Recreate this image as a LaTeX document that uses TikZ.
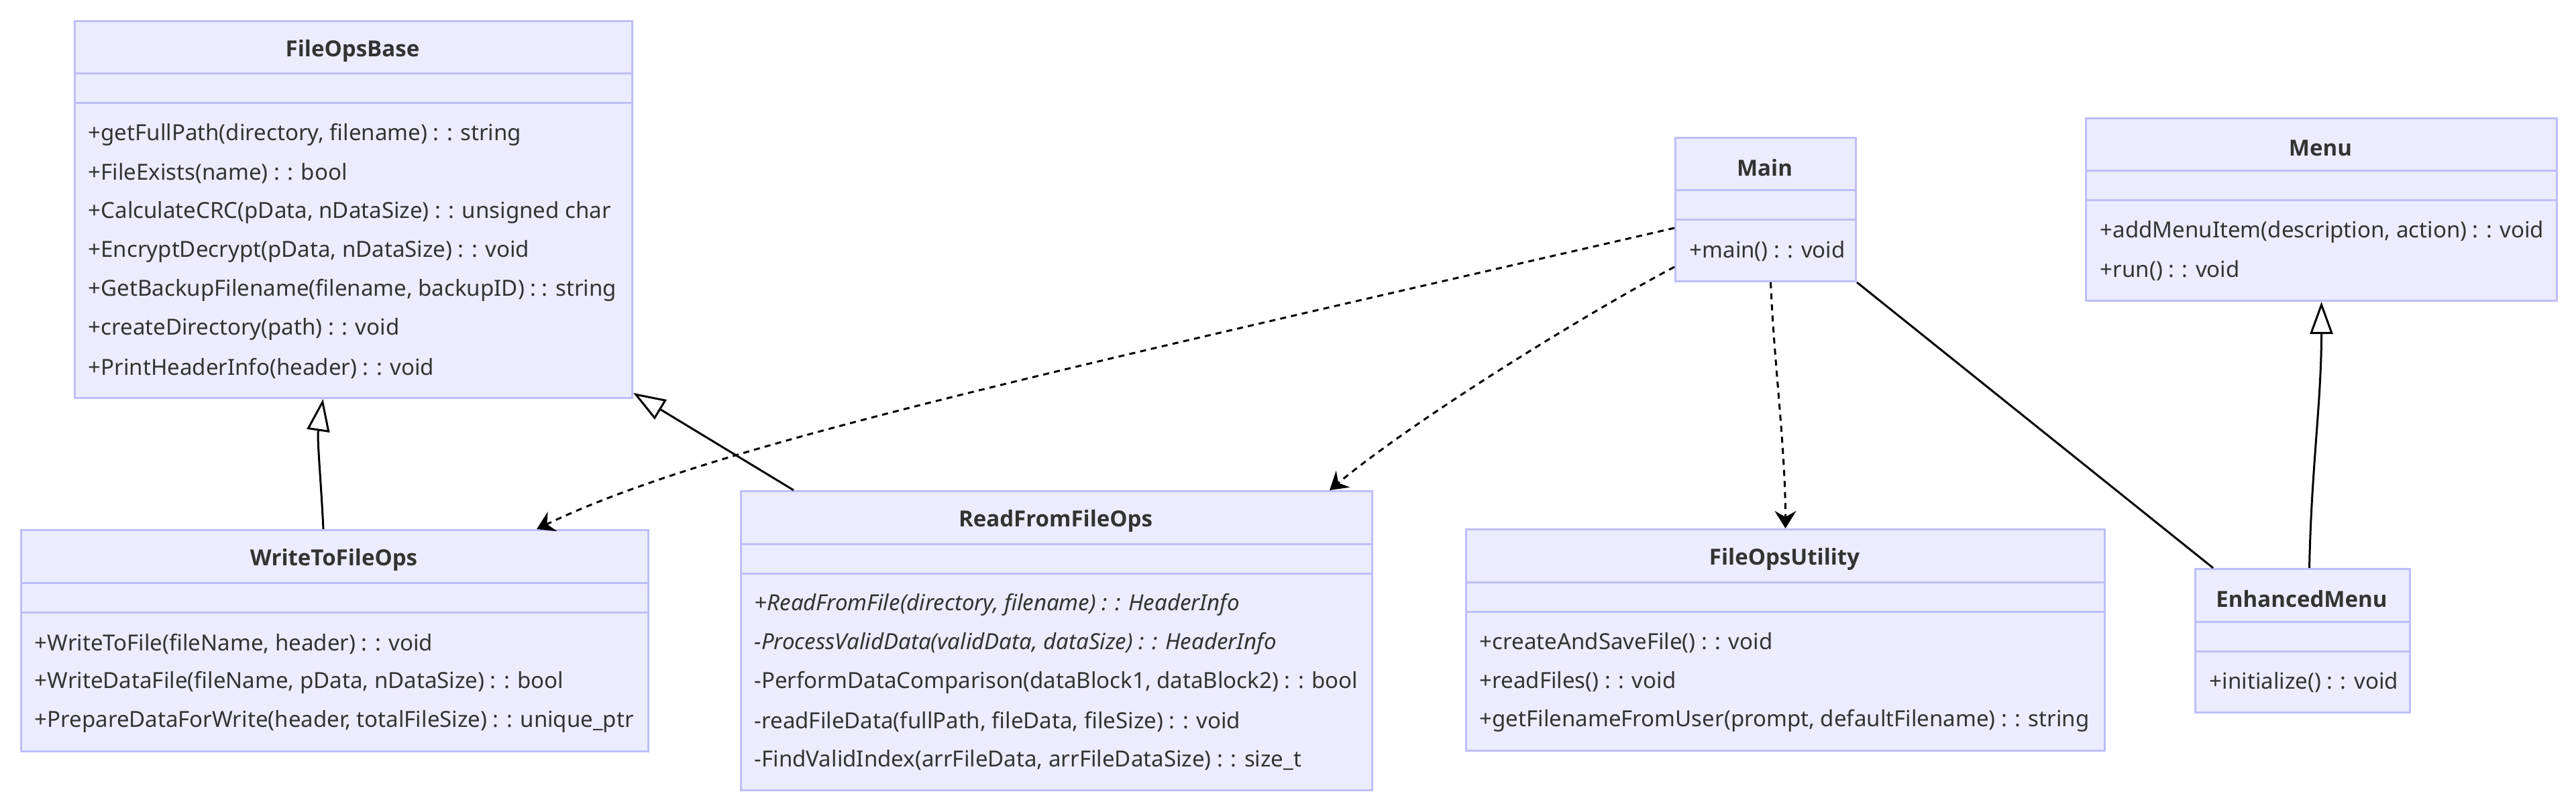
\documentclass[tikz,border=0pt]{standalone}
\usepackage{fontspec}
\setmainfont{Noto Sans}
\newfontfamily\titlefont{Open Sans}
\usetikzlibrary{arrows.meta}
\definecolor{classfill}{HTML}{ECECFF}
\definecolor{classline}{RGB}{190,190,250}
\definecolor{classtext}{HTML}{333333}
\begin{document}
\begin{tikzpicture}[x=1mm,y=-1mm,font=\fontsize{9.4}{11}\selectfont]
\tikzset{
  classbox/.style={draw=classline,fill=classfill,line width=0.3mm,
    inner sep=0pt,anchor=north west},
  divider/.style={draw=classline,line width=0.3mm},
  classname/.style={font=\fontsize{9.4}{11}\selectfont\titlefont\bfseries,text=classtext},
  member/.style={anchor=west,inner sep=0pt,text=classtext},
  abstract/.style={member,font=\fontsize{9.4}{11}\selectfont\itshape},
  inherit/.style={line width=0.3mm,
    -{Triangle[open,length=4.8mm,width=3.4mm]}},
  depend/.style={line width=0.3mm,dash pattern=on 0.9mm off 0.75mm,
    -{Stealth[length=2.6mm,width=3.2mm,inset=0.9mm]}},
  assoc/.style={line width=0.3mm}
}
\useasboundingbox (0,0) rectangle (384,119.6);

% FileOpsBase
\node[classbox,minimum width=83.1mm,minimum height=56.2mm] (base) at (11,3) {};
\draw[divider] ([yshift=-8mm]base.north west) -- ([yshift=-8mm]base.north east);
\draw[divider] ([yshift=-12.4mm]base.north west) -- ([yshift=-12.4mm]base.north east);
\node[classname] (base-name) at (52.55,7.6) {FileOpsBase};
\node[member] (base-m1) at (13.1,20.1) {+getFullPath(directory, filename) : : string};
\node[member] (base-m2) at (13.1,25.9) {+FileExists(name) : : bool};
\node[member] (base-m3) at (13.1,31.7) {+CalculateCRC(pData, nDataSize) : : unsigned char};
\node[member] (base-m4) at (13.1,37.5) {+EncryptDecrypt(pData, nDataSize) : : void};
\node[member] (base-m5) at (13.1,43.3) {+GetBackupFilename(filename, backupID) : : string};
\node[member] (base-m6) at (13.1,49.1) {+createDirectory(path) : : void};
\node[member] (base-m7) at (13.1,54.9) {+PrintHeaderInfo(header) : : void};

% WriteToFileOps
\node[classbox,minimum width=93.5mm,minimum height=33mm] (write) at (3,78.9) {};
\draw[divider] ([yshift=-8mm]write.north west) -- ([yshift=-8mm]write.north east);
\draw[divider] ([yshift=-12.4mm]write.north west) -- ([yshift=-12.4mm]write.north east);
\node[classname] (write-name) at (49.75,83.5) {WriteToFileOps};
\node[member] (write-m1) at (5.1,96.0) {+WriteToFile(fileName, header) : : void};
\node[member] (write-m2) at (5.1,101.8) {+WriteDataFile(fileName, pData, nDataSize) : : bool};
\node[member] (write-m3) at (5.1,107.6) {+PrepareDataForWrite(header, totalFileSize) : : unique\_ptr};

% ReadFromFileOps
\node[classbox,minimum width=94.1mm,minimum height=44.6mm] (read) at (110.3,73.1) {};
\draw[divider] ([yshift=-8mm]read.north west) -- ([yshift=-8mm]read.north east);
\draw[divider] ([yshift=-12.4mm]read.north west) -- ([yshift=-12.4mm]read.north east);
\node[classname] (read-name) at (157.35,77.7) {ReadFromFileOps};
\node[abstract] (read-m1) at (112.4,90.2) {+ReadFromFile(directory, filename) : : HeaderInfo};
\node[abstract] (read-m2) at (112.4,96.0) {-ProcessValidData(validData, dataSize) : : HeaderInfo};
\node[member] (read-m3) at (112.4,101.8) {-PerformDataComparison(dataBlock1, dataBlock2) : : bool};
\node[member] (read-m4) at (112.4,107.6) {-readFileData(fullPath, fileData, fileSize) : : void};
\node[member] (read-m5) at (112.4,113.4) {-FindValidIndex(arrFileData, arrFileDataSize) : : size\_t};

% FileOpsUtility
\node[classbox,minimum width=95.2mm,minimum height=33mm] (util) at (218.4,78.8) {};
\draw[divider] ([yshift=-8mm]util.north west) -- ([yshift=-8mm]util.north east);
\draw[divider] ([yshift=-12.4mm]util.north west) -- ([yshift=-12.4mm]util.north east);
\node[classname] (util-name) at (266.0,83.4) {FileOpsUtility};
\node[member] (util-m1) at (220.5,95.9) {+createAndSaveFile() : : void};
\node[member] (util-m2) at (220.5,101.7) {+readFiles() : : void};
\node[member] (util-m3) at (220.5,107.5) {+getFilenameFromUser(prompt, defaultFilename) : : string};

% Main
\node[classbox,minimum width=26.9mm,minimum height=21.4mm] (main) at (249.6,20.4) {};
\draw[divider] ([yshift=-8mm]main.north west) -- ([yshift=-8mm]main.north east);
\draw[divider] ([yshift=-12.4mm]main.north west) -- ([yshift=-12.4mm]main.north east);
\node[classname] (main-name) at (263.05,25.0) {Main};
\node[member] (main-m1) at (251.8,37.5) {+main() : : void};

% Menu
\node[classbox,minimum width=70.2mm,minimum height=27.2mm] (menu) at (310.8,17.5) {};
\draw[divider] ([yshift=-8mm]menu.north west) -- ([yshift=-8mm]menu.north east);
\draw[divider] ([yshift=-12.4mm]menu.north west) -- ([yshift=-12.4mm]menu.north east);
\node[classname] (menu-name) at (345.9,22.1) {Menu};
\node[member] (menu-m1) at (313.0,34.6) {+addMenuItem(description, action) : : void};
\node[member] (menu-m2) at (313.0,40.4) {+run() : : void};

% EnhancedMenu
\node[classbox,minimum width=32mm,minimum height=21.4mm] (enh) at (327.1,84.7) {};
\draw[divider] ([yshift=-8mm]enh.north west) -- ([yshift=-8mm]enh.north east);
\draw[divider] ([yshift=-12.4mm]enh.north west) -- ([yshift=-12.4mm]enh.north east);
\node[classname] (enh-name) at (343.1,89.3) {EnhancedMenu};
\node[member] (enh-m1) at (329.3,101.8) {+initialize() : : void};

% relations
\draw[inherit] ([xshift=-1.7mm]write.north) .. controls +(-0.4,-8) and +(-0.9,6) .. ([xshift=-4.55mm]base.south);
\draw[inherit] ([xshift=8mm]read.north west) -- ([yshift=0.9mm]base.south east);
\draw[depend] ([yshift=-13.6mm]main.north west) .. controls +(-100,23) and +(25,-12) .. ([xshift=77mm]write.north west);
\draw[depend] ([yshift=-19.4mm]main.north west) .. controls +(-15,8) and +(12,-10) .. ([xshift=-6.5mm]read.north east);
\draw[depend] ([xshift=0.75mm]main.south) .. controls +(0.5,12) and +(0,-12) .. (util.north);
\draw[assoc] (main.south east) -- ([xshift=2.8mm]enh.north west);
\draw[inherit] ([xshift=1mm]enh.north) .. controls +(0.3,-15) and +(0,15) .. (menu.south);
\end{tikzpicture}
\end{document}
